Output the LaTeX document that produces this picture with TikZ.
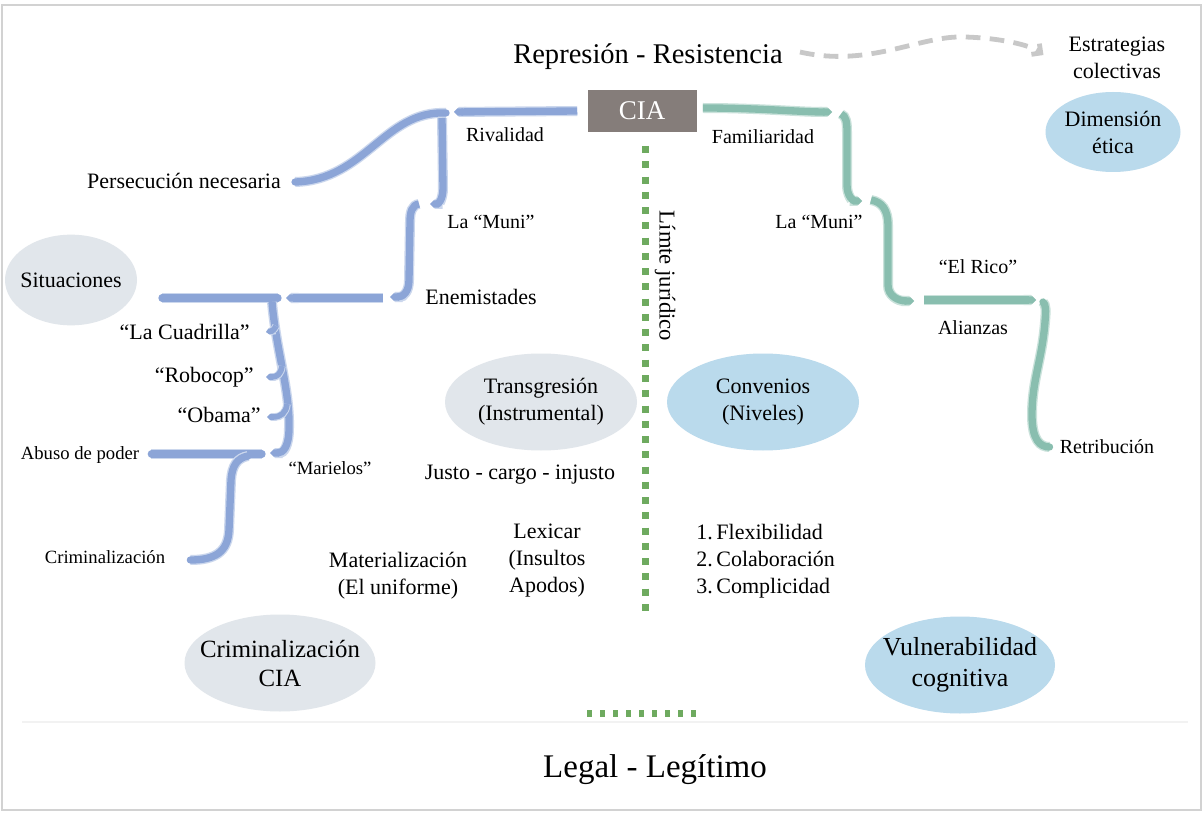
\documentclass[tikz,border=0pt]{standalone}
\usepackage{fontspec}
\setmainfont{Liberation Serif}
\usetikzlibrary{arrows.meta,shapes.geometric,calc}
\definecolor{brblue}{RGB}{140,165,215}
\definecolor{brteal}{RGB}{137,190,175}
\definecolor{ciagray}{RGB}{133,125,122}
\definecolor{ellgray}{RGB}{225,230,235}
\definecolor{ellblue}{RGB}{186,218,236}
\definecolor{dotgreen}{RGB}{110,170,95}
\definecolor{dashgray}{RGB}{200,200,200}
\begin{document}
\begin{tikzpicture}[x=0.75pt,y=-0.75pt,
  every node/.style={inner sep=0pt},
  bb/.style={draw=brblue, line width=5.5pt, preaction={draw=brblue!45, line width=7.5pt}},
  bbthin/.style={draw=brblue, line width=4.2pt, preaction={draw=brblue!45, line width=5.7pt}},
  tb/.style={draw=brteal, line width=5.5pt, preaction={draw=brteal!45, line width=7.5pt}},
  tipcap/.style={-{Triangle Cap}},
  graydash/.style={draw=dashgray, line width=3.6pt, dash pattern=on 11pt off 7pt},
  greendots/.style={draw=dotgreen, line width=5.25pt, dash pattern=on 5.25pt off 6.2pt},
  titlef/.style={font=\fontsize{21.4}{25}\selectfont},
  legalf/.style={font=\fontsize{24.75}{29}\selectfont},
  txt/.style={font=\fontsize{16.5}{20.25}\selectfont},
  lbl/.style={font=\fontsize{15}{18}\selectfont},
  sm/.style={font=\fontsize{14}{17}\selectfont},
  big/.style={font=\fontsize{18.6}{21.75}\selectfont},
  bigv/.style={font=\fontsize{19.5}{23}\selectfont},
  ellg/.style={ellipse, fill=ellgray},
  ellb/.style={ellipse, fill=ellblue},
  ciabox/.style={rectangle, fill=ciagray, text=white, minimum width=81.75pt, minimum height=31.5pt, font=\fontsize{20.25}{24}\selectfont}
]
\useasboundingbox (0,0) rectangle (1204,813);
\fill[white] (0,0) rectangle (1204,813);
\draw[gray!35, line width=1.2pt] (2,5) rectangle (1201,810);
\draw[gray!10, line width=1pt] (22,722) -- (1188,722);

% ellipses
\node[ellg, minimum width=99pt, minimum height=68pt] (sitE) at (71,280) {};
\node[ellg, minimum width=144pt, minimum height=72.75pt] (traE) at (541,402) {};
\node[ellb, minimum width=144pt, minimum height=72.75pt] (conE) at (763,402) {};
\node[ellb, minimum width=101.25pt, minimum height=60pt] (dimE) at (1113,132) {};
\node[ellg, minimum width=143.25pt, minimum height=72.75pt] (crimE) at (280,663) {};
\node[ellb, minimum width=142.5pt, minimum height=72.75pt] (vulE) at (960,665) {};

% green dotted limit
\coordinate (limTop) at (645,146);
\coordinate (limBot) at (645,618);
\draw[greendots] (limTop) -- (limBot);
\coordinate (botL) at (587,713);
\coordinate (botR) at (703,713);
\draw[draw=dotgreen, line width=5.25pt, dash pattern=on 3.75pt off 6pt] (botL) -- (botR);

% texts
\node[titlef] (title) at (648,57) {Represión - Resistencia};
\node[txt, align=center] (estr) at (1117,58) {Estrategias\\colectivas};
\node[ciabox] (cia) at (642,111) {CIA};
\node[lbl] (riv) at (505,135) {Rivalidad};
\node[lbl] (fam) at (763,137) {Familiaridad};
\node[txt] (pers) at (184,181) {Persecución necesaria};
\node[lbl] (munil) at (491,222) {La “Muni”};
\node[lbl] (munir) at (819,222) {La “Muni”};
\node[font=\fontsize{17}{20}\selectfont, rotate=-90] (lim) at (665,276) {Límte jurídico};
\node[lbl] (rico) at (978,267) {“El Rico”};
\node[lbl] (alz) at (973,328) {Alianzas};
\node[txt] (enem) at (481,297) {Enemistades};
\node[txt] (sit) at (sitE) {Situaciones};
\node[txt, anchor=east] (cuad) at (250,332) {“La Cuadrilla”};
\node[txt, anchor=east] (robo) at (254,377) {“Robocop”};
\node[txt, anchor=east] (obama) at (261,415) {“Obama”};
\node[sm] (abuso) at (80,455) {Abuso de poder};
\node[sm] (mari) at (330,468) {“Marielos”};
\node[txt, align=center] (tra) at (traE) {Transgresión\\(Instrumental)};
\node[txt, align=center] (con) at (conE) {Convenios\\(Niveles)};
\node[txt, align=center] (dim) at (dimE) {Dimensión\\ética};
\node[txt] (justo) at (520,475) {Justo - cargo - injusto};
\node[lbl] (retr) at (1107,447) {Retribución};
\node[sm] (crimsm) at (105,557) {Criminalización};
\node[txt, align=center] (lex) at (547,561) {Lexicar\\(Insultos\\Apodos)};
\node[txt, align=center] (mat) at (398,576) {Materialización\\(El uniforme)};
\node[txt, align=left, anchor=west] (list) at (696,561) {1.\,Flexibilidad\\2.\,Colaboración\\3.\,Complicidad};
\node[big, align=center] (crim) at (crimE) {Criminalización\\CIA};
\node[bigv, align=center] (vul) at (vulE) {Vulnerabilidad\\cognitiva};
\node[legalf] (legal) at (655,770) {Legal - Legítimo};

% dashed connector
\draw[graydash, -{Straight Barb[length=5pt,width=10pt]}] ($(title.east)+(17,-5)$) .. controls (870,68) and (920,35) .. (965,37) .. controls (1000,38) and (1030,45) .. ($(estr.west)+(-25,-3)$);

% blue branches
\coordinate (jA) at (446,113);
\draw[bb, tipcap] ($(cia.west)+(-10,0)$) -- (454,112);
\draw[bb, line cap=round] (jA) .. controls (385,110) and (365,180) .. ($(pers.east)+(14,1)$);
\draw[bb, tipcap] (442,118) -- (443,188) .. controls (443,200) and (438,204) .. (430,204);
\draw[bb, tipcap] (419,204) .. controls (412,205) and (410,212) .. (410,222) -- (409,280) .. controls (409,292) and (403,297) .. (390,297);
\draw[bb, tipcap] (383,298) -- (286,298);
\draw[bb, line cap=round] (278,298) -- (162,298);
\draw[bb, tipcap] (272,302) .. controls (276,350) and (290,390) .. (289,428) .. controls (289,447) and (283,453) .. (270,453);
\draw[bbthin, tipcap] (276,326) .. controls (274,330) and (272,331) .. ($(cuad.east)+(16,0)$);
\draw[bbthin, tipcap] (282,366) .. controls (281,374) and (277,377) .. ($(robo.east)+(12,0)$);
\draw[bbthin, tipcap] (287,404) .. controls (286,413) and (281,417) .. ($(obama.east)+(6,2)$);
\draw[bb, line cap=round] (262,454) -- ($(abuso.east)+(12,-1)$);
\draw[bb, line cap=round] (248,456) .. controls (237,458) and (232,466) .. (231,480) -- (229,530) .. controls (228,552) and (215,560) .. ($(crimsm.east)+(25,3)$);

% teal branches
\draw[tb, tipcap] ($(cia.east)+(6,-3)$) .. controls (760,108) and (800,112) .. (832,112);
\draw[tb, tipcap] (841,114) .. controls (846,116) and (847,122) .. (847,132) -- (847,185) .. controls (847,196) and (853,201) .. (862,201);
\draw[tb, tipcap] (871,200) .. controls (882,202) and (888,210) .. (888,225) -- (888,285) .. controls (888,296) and (898,301) .. (914,301);
\draw[tb, tipcap] (924,300) -- (1036,300);
\draw[tb, line cap=round] (1043,302) .. controls (1046,305) and (1046,310) .. (1045,322) .. controls (1042,360) and (1032,380) .. (1032,415) .. controls (1032,440) and (1040,447) .. ($(retr.west)+(-10,0)$);
\end{tikzpicture}
\end{document}
